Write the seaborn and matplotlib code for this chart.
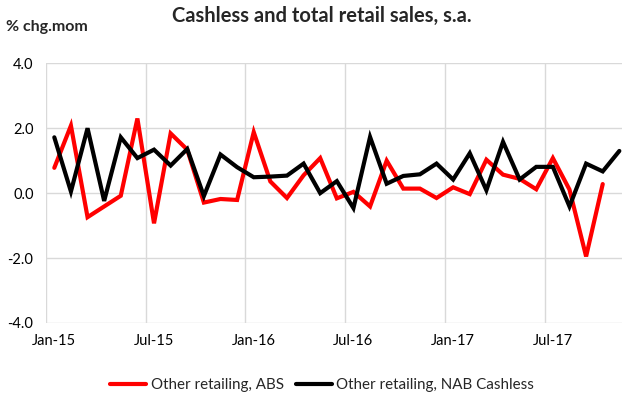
import matplotlib
matplotlib.use("Agg")
import matplotlib.pyplot as plt
import seaborn as sns
import pandas as pd
import numpy as np

# Monthly % change, seasonally adjusted
months = pd.date_range("2015-01-01", "2017-11-01", freq="MS")
month_labels = [d.strftime("%b-%y") for d in months]

abs_other = [0.78, 2.08, -0.74, -0.41, -0.08, 2.30, -0.93, 1.84, 1.34, -0.29,
             -0.18, -0.21, 1.88, 0.36, -0.15, 0.55, 1.08, -0.16, 0.04, -0.41,
             1.00, 0.14, 0.14, -0.15, 0.18, -0.03, 1.03, 0.57, 0.44, 0.12,
             1.08, 0.11, -1.95, 0.28]
nab_cashless = [1.72, 0.05, 2.00, -0.24, 1.72, 1.08, 1.34, 0.85, 1.36, -0.09,
                1.19, 0.80, 0.49, 0.51, 0.54, 0.91, 0.00, 0.37, -0.46, 1.73,
                0.29, 0.53, 0.58, 0.91, 0.42, 1.23, 0.09, 1.58, 0.42, 0.81,
                0.81, -0.41, 0.91, 0.67, 1.30]

series_names = ["Other retailing, ABS", "Other retailing, NAB Cashless"]
series_colors = ["#ff0000", "#000000"]

y_ticks = [-4.0, -2.0, 0.0, 2.0, 4.0]
x_tick_idx = [0, 6, 12, 18, 24, 30]

df = pd.concat([
    pd.DataFrame({"idx": np.arange(len(abs_other)), "value": abs_other,
                  "series": series_names[0]}),
    pd.DataFrame({"idx": np.arange(len(nab_cashless)), "value": nab_cashless,
                  "series": series_names[1]}),
], ignore_index=True)

sns.set_theme(style="white")
plt.rcParams["font.family"] = ["Lato", "DejaVu Sans"]

W, H = 622, 399
fig = plt.figure(figsize=(W / 100, H / 100), dpi=100)
ax_left, ax_right, ax_top, ax_bottom = 46, 622, 63.3, 323
ax = fig.add_axes([ax_left / W, 1 - ax_bottom / H,
                   (ax_right - ax_left) / W, (ax_bottom - ax_top) / H])

grid_col = "#d9d9d9"
sns.lineplot(data=df, x="idx", y="value", hue="series", hue_order=series_names,
             palette=series_colors, linewidth=3.0, ax=ax, legend=False,
             solid_joinstyle="miter", zorder=3)

ax.set_xlim(-0.5, 34.16)
ax.set_ylim(-4.0, 4.0)

# category-boundary vertical grid every six months
for g in np.arange(-0.5, 34.5, 6):
    ax.axvline(g, color=grid_col, lw=1.0, zorder=1)
for yv in y_ticks:
    ax.axhline(yv, color=grid_col, lw=1.0, zorder=1)

ax.set_yticks(y_ticks)
ax.set_yticklabels([f"{v:.1f}" for v in y_ticks])
ax.set_xticks(x_tick_idx)
ax.set_xticklabels([month_labels[i] for i in x_tick_idx])
ax.tick_params(axis="both", length=0, labelsize=10.5, colors="#000000")
ax.tick_params(axis="x", pad=8)
ax.tick_params(axis="y", pad=9)
ax.set_xlabel("")
ax.set_ylabel("")
for s in ax.spines.values():
    s.set_visible(False)

fig.text(322 / W, 1 - 16 / H, "Cashless and total retail sales, s.a.",
         ha="center", va="center", fontsize=14.5, fontweight="bold")
fig.text(6 / W, 1 - 27 / H, "% chg.mom", ha="left", va="center",
         fontsize=11.5, fontweight="bold")

handles = [plt.Line2D([], [], color=c, lw=3.0) for c in series_colors]
fig.legend(handles, series_names, loc="center", bbox_to_anchor=(322 / W, 1 - 385 / H),
           ncol=2, frameon=False, fontsize=10.9, handlelength=2.4,
           handletextpad=0.3, columnspacing=0.8)

fig.savefig("out.png", dpi=100)
